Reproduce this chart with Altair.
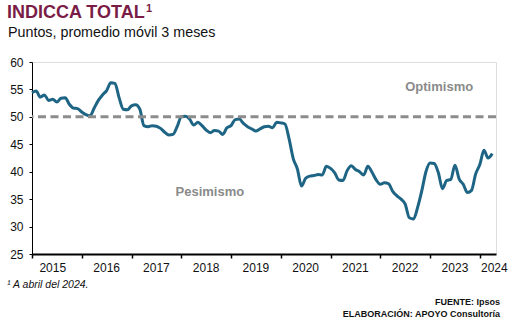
import altair as alt
import pandas as pd

# Monthly index values, Jan 2015 .. Apr 2024 (3-month moving average)
values = [
    54.4, 54.7, 53.6, 54.0, 53.0, 53.2, 52.7, 53.4, 53.5, 52.3, 51.6, 51.5,   # 2015
    50.9, 50.4, 50.2, 51.6, 53.0, 54.0, 54.8, 56.2, 56.1, 53.5, 51.4, 51.3,   # 2016
    52.0, 52.2, 51.4, 48.4, 48.2, 48.4, 48.3, 47.9, 47.2, 46.7, 46.8, 48.2,   # 2017
    50.0, 50.1, 49.6, 48.5, 49.0, 48.4, 47.6, 47.1, 47.5, 47.4, 46.8, 48.0,   # 2018
    48.4, 49.5, 49.6, 48.8, 48.2, 47.8, 47.4, 47.8, 48.2, 48.3, 48.0, 49.0,   # 2019
    48.9, 48.7, 46.0, 42.4, 40.5, 37.4, 38.8, 39.2, 39.3, 39.5, 39.4, 41.0,   # 2020
    40.6, 39.8, 38.5, 38.4, 40.2, 41.1, 40.4, 40.0, 39.4, 41.0, 39.9, 38.5,   # 2021
    37.7, 38.0, 37.8, 36.4, 35.6, 35.0, 34.1, 31.6, 31.4, 33.5, 36.5, 40.0,   # 2022
    41.6, 41.5, 39.8, 36.9, 38.4, 38.6, 41.2, 38.7, 37.7, 36.2, 36.6, 39.6,   # 2023
    41.3, 43.9, 42.5, 43.3,                                                   # 2024
]
years = ["2015", "2016", "2017", "2018", "2019", "2020", "2021", "2022", "2023", "2024"]
year_label_pos = [5, 18, 30, 42, 54, 66, 78, 90, 102, 111.5]
year_ticks = [0, 12, 24, 36, 48, 60, 72, 84, 96, 108]
threshold = 50
y_ticks = [25, 30, 35, 40, 45, 50, 55, 60]

FONT = "Liberation Sans"
W, H = 464, 192

df = pd.DataFrame({"m": list(range(len(values))), "v": values})
ydf = pd.DataFrame({"m": year_label_pos, "year": years})
zones = pd.DataFrame({"m": [98.2, 42.9], "v": [54.7, 35.65], "t": ["Optimismo", "Pesimismo"]})

xscale = alt.Scale(domain=[0, 111.9], nice=False, zero=False)
yscale = alt.Scale(domain=[25, 60], nice=False, zero=False)

xaxis = alt.Axis(values=year_ticks, labels=False, title=None, grid=False,
                 domainColor="black", domainWidth=2, tickColor="black", tickSize=4, tickWidth=1.5)
yaxis = alt.Axis(values=y_ticks, title=None, grid=False, domainColor="black", domainWidth=1,
                 tickColor="black", tickSize=3, labelFontSize=12, labelFont=FONT,
                 labelColor="#111111", labelPadding=6, labelOverlap=False, labelFlush=False)

line = alt.Chart(df).mark_line(color="#1e6585", strokeWidth=3, interpolate="monotone").encode(
    x=alt.X("m:Q", scale=xscale, axis=xaxis),
    y=alt.Y("v:Q", scale=yscale, axis=yaxis),
)

rule = alt.Chart(pd.DataFrame({"v": [threshold]})).mark_rule(
    color="#8c8c8c", strokeWidth=3, strokeDash=[8, 4.5]
).encode(y=alt.Y("v:Q", scale=yscale, axis=yaxis))

zone_text = alt.Chart(zones).mark_text(
    font=FONT, fontSize=13, fontWeight="bold", color="#8a8a8a", baseline="alphabetic"
).encode(x=alt.X("m:Q", scale=xscale, axis=xaxis), y=alt.Y("v:Q", scale=yscale, axis=yaxis),
         text="t:N")

year_text = alt.Chart(ydf).mark_text(
    font=FONT, fontSize=12, color="#111111", baseline="alphabetic"
).encode(x=alt.X("m:Q", scale=xscale, axis=xaxis), y=alt.value(H + 17.5), text="year:N")

def label(txt, x, y, **kw):
    return alt.Chart(pd.DataFrame({"t": [txt]})).mark_text(
        font=FONT, baseline="alphabetic", align=kw.pop("align", "left"), **kw
    ).encode(x=alt.value(x), y=alt.value(y), text="t:N")

title = label("INDICCA TOTAL", -25, -44.5, fontSize=18, fontWeight="bold", color="#7a1c46")
sup = label("1", 114, -50, fontSize=11, fontWeight="bold", color="#7a1c46")
subtitle = label("Puntos, promedio móvil 3 meses", -24, -25.5, fontSize=14.3, color="#111111")
foot = label("¹ A abril del 2024.", -25, 225.5, fontSize=10.5, fontStyle="italic", color="#111111")
src1 = label("FUENTE: Ipsos", 468, 243, fontSize=9, fontWeight="bold", color="#111111", align="right")
src2 = label("ELABORACIÓN: APOYO Consultoría", 468, 255, fontSize=9, fontWeight="bold",
             color="#111111", align="right")

chart = alt.layer(line, rule, zone_text, year_text, title, sup, subtitle, foot, src1, src2).properties(
    width=W, height=H,
    autosize=alt.AutoSizeParams(type="none"),
    padding={"left": 32, "top": 62, "right": 18, "bottom": 68},
).configure_view(stroke=None).configure(background="white")

chart.save("out.html", embed_options={"renderer": "svg", "actions": False})
